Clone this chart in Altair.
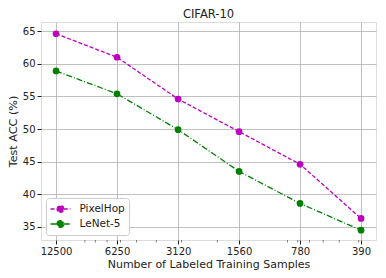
import altair as alt
import pandas as pd

samples = [12500, 6250, 3120, 1560, 780, 390]
pixelhop = [64.6, 61.0, 54.6, 49.6, 44.6, 36.3]
lenet = [58.9, 55.4, 49.9, 43.5, 38.6, 34.5]
series = ["PixelHop", "LeNet-5"]
colors = ["#bf00bf", "#008000"]
minor_ticks = [9000, 8000, 7000, 6000, 5000, 4000, 3000, 2000, 900, 800, 700, 600, 500, 400]

rows = []
for s, vals in zip(series, [pixelhop, lenet]):
    for x, v in zip(samples, vals):
        rows.append({"samples": x, "acc": v, "model": s})
df = pd.DataFrame(rows)
df_minor = pd.DataFrame({"samples": minor_ticks})

font = "DejaVu Sans"
xscale = alt.Scale(type="log", domain=[14830, 329], nice=False)
yscale = alt.Scale(domain=[33.0, 66.4], nice=False, zero=False)

sym = ("M-1.6,0 L-0.53,0 M0.53,0 L1.6,0 "
       "M-0.53,0 A0.53,0.53 0 1,1 0.53,0 A0.53,0.53 0 1,1 -0.53,0 Z")

color = alt.Color("model:N", scale=alt.Scale(domain=series, range=colors),
                  legend=alt.Legend(title=None, orient="bottom-left", offset=5,
                                    fillColor="white", strokeColor="#cccccc",
                                    cornerRadius=3, padding=4,
                                    symbolType=sym, symbolSize=156, symbolOffset=3.5,
                                    symbolStrokeWidth=1.5, symbolFillColor=None,
                                    labelOffset=12, labelFont=font, labelFontSize=10.5,
                                    labelColor="#222", rowPadding=1))
dash = alt.StrokeDash("model:N", scale=alt.Scale(domain=series, range=[[4, 2], [6, 2, 1, 2]]),
                      legend=None)

xaxis = alt.Axis(values=samples, format="d", title="Number of Labeled Training Samples",
                 grid=True, gridColor="#b0b0b0", gridWidth=0.8,
                 labelFont=font, labelFontSize=10, labelColor="#222",
                 titleFont=font, titleFontSize=11, titleFontWeight="normal", titleColor="#222",
                 tickColor="#222", tickSize=4, labelPadding=2, titlePadding=2,
                 domain=False, labelFlush=False)
yaxis = alt.Axis(values=[35, 40, 45, 50, 55, 60, 65], title="Test ACC (%)",
                 grid=True, gridColor="#b0b0b0", gridWidth=0.8,
                 labelFont=font, labelFontSize=10, labelColor="#222",
                 titleFont=font, titleFontSize=11.2, titleFontWeight="normal", titleColor="#222",
                 tickColor="#222", tickSize=4, labelPadding=2, titlePadding=4,
                 domain=False)

base = alt.Chart(df).encode(
    x=alt.X("samples:Q", scale=xscale, axis=xaxis),
    y=alt.Y("acc:Q", scale=yscale, axis=yaxis),
)
lines = base.mark_line(strokeWidth=1.3, clip=True).encode(color=color, strokeDash=dash)
points = base.mark_point(filled=True, size=45, opacity=1, clip=True).encode(
    color=alt.Color("model:N", scale=alt.Scale(domain=series, range=colors), legend=None))

minor = alt.Chart(df_minor).mark_tick(
    orient="vertical", color="#222", thickness=0.8, size=2.5).encode(
    x=alt.X("samples:Q", scale=xscale, axis=xaxis),
    y=alt.value(219.2))

chart = alt.layer(lines, points, minor).properties(
    width=335, height=218,
    title=alt.TitleParams("CIFAR-10", font=font, fontSize=11.5, fontWeight="normal",
                          color="#222", offset=2, frame="group"),
    autosize=alt.AutoSizeParams(type="none"),
    padding={"left": 33, "top": 14, "right": 2, "bottom": 34},
).configure_view(stroke="#222", strokeWidth=1).configure(background="white")

chart.save("out.html", embed_options={"renderer": "svg", "actions": False})
